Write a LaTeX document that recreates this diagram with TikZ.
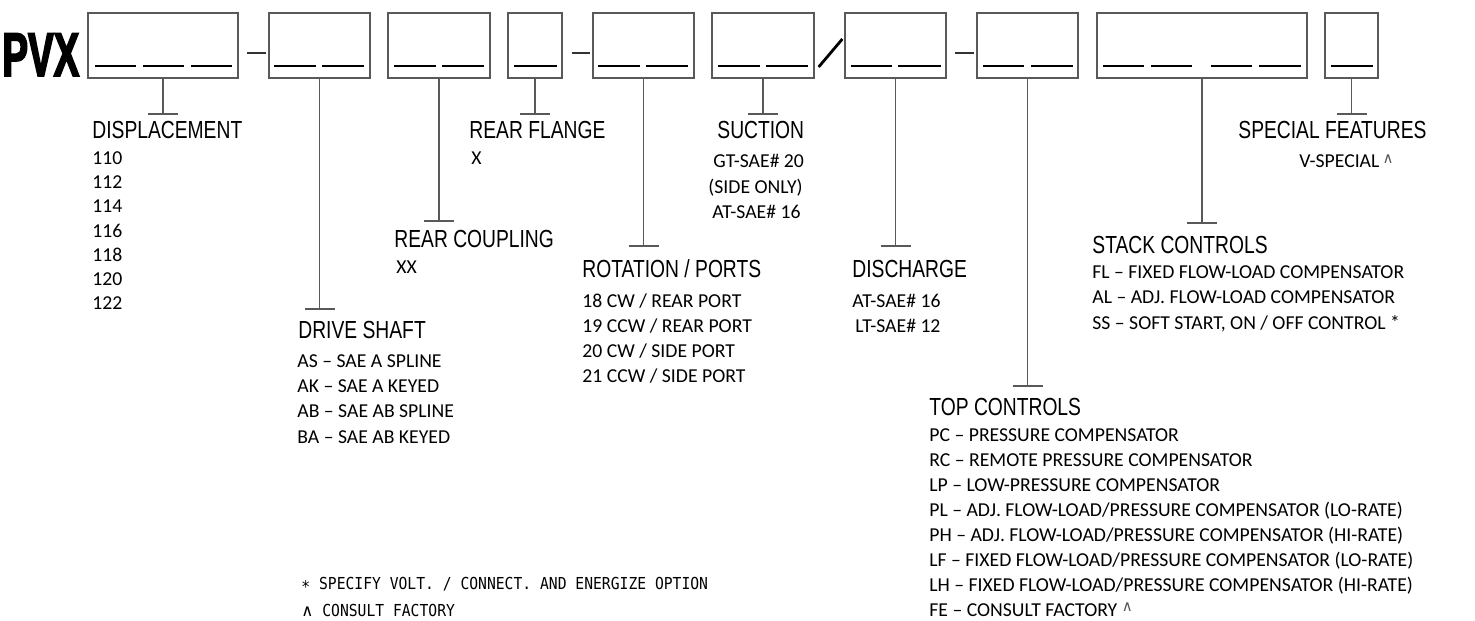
\documentclass[tikz,border=0pt]{standalone}
\usepackage{fontspec}
\usetikzlibrary{fit,calc}
\newfontfamily\headfam[FakeStretch=0.78]{Liberation Sans}
\newfontfamily\itemfam{Carlito}
\newfontfamily\pvxfam[FakeStretch=0.62,FakeBold=2.5]{Liberation Sans}
\newfontfamily\notefam[FakeStretch=0.89]{DejaVu Sans Mono}
\newfontfamily\symfam{DejaVu Sans}
\newcommand\headfont{\headfam\fontsize{12.35}{14}\selectfont}
\newcommand\itemfont{\itemfam\fontsize{9.85}{12}\selectfont}
\newcommand\notefont{\notefam\fontsize{8.25}{10}\selectfont}
\newcommand\caretmark{\raisebox{2.2pt}{\textcolor{black!65}{\symfam\fontsize{7.5}{8}\selectfont ∧}}}
\begin{document}
\begin{tikzpicture}[x=0.5pt,y=-0.5pt,
  box/.style={draw=black!65,line width=0.65pt,inner sep=0pt},
  usc/.style={draw=black,line width=0.7pt},
  stem/.style={draw=black!65,line width=0.6pt},
  dashline/.style={draw=black!80,line width=0.6pt},
  head/.style={anchor=base west,inner sep=0pt,font=\headfont},
  item/.style={anchor=base west,inner sep=0pt,font=\itemfont},
  note/.style={anchor=base west,inner sep=0pt,font=\notefont}]
\useasboundingbox (0,0) rectangle (1475,620);
\fill[white] (0,0) rectangle (1475,620);

% PVX
\node[anchor=base west,inner sep=0pt,font=\pvxfam\bfseries\fontsize{31}{32}\selectfont] (pvx) at (2,76) {PVX};

% boxes
\node[box,fit={(88,13) (238,78)}] (b1) {};
\node[box,fit={(269,13) (370,78)}] (b2) {};
\node[box,fit={(388,13) (490,78)}] (b3) {};
\node[box,fit={(508,13) (562,78)}] (b4) {};
\node[box,fit={(593,13) (694,78)}] (b5) {};
\node[box,fit={(712,13) (814,78)}] (b6) {};
\node[box,fit={(845,13) (946,78)}] (b7) {};
\node[box,fit={(977,13) (1078,78)}] (b8) {};
\node[box,fit={(1097,13) (1307,78)}] (b9) {};
\node[box,fit={(1325,13) (1378,78)}] (b10) {};

% underscores
\foreach \a/\b in {95/136,143/184,191/232,274/316,322/364,394/436,442/484,514/557,
  598/640,646/688,718/760,766/808,851/892,898/941,983/1024,1031/1073,
  1103/1144,1151/1192,1211/1252,1259/1301,1331/1373}
  \draw[usc] (\a,66) -- (\b,66);

% dashes and slash
\draw[dashline] ([xshift=4pt,yshift=-3.75pt]b1.east) -- ([xshift=-1pt,yshift=-3.75pt]b2.west);
\draw[dashline] ([xshift=4.5pt,yshift=-3.75pt]b4.east) -- ([xshift=-1pt,yshift=-3.75pt]b5.west);
\draw[dashline] ([xshift=4pt,yshift=-3.75pt]b7.east) -- ([xshift=-1pt,yshift=-3.75pt]b8.west);
\draw[line width=1.4pt] ([xshift=2pt,yshift=-10.75pt]b6.east) -- ([xshift=-1pt,yshift=3.25pt]b7.west);

% stems with cross bars
\foreach \n/\y in {b1/114,b2/309,b3/221,b4/114,b5/246,b6/114,b7/246,b8/386,b9/223,b10/114}{
  \coordinate (t\n) at (\n.south |- 0,\y);
  \draw[stem] (\n.south) -- (t\n);
  \draw[stem] ([xshift=-7.5pt]t\n) -- ([xshift=7.5pt]t\n);
}

% DISPLACEMENT
\node[head] (hdisp) at (92,139) {DISPLACEMENT};
\foreach \t [count=\i from 0] in {110,112,114,116,118,120,122}
  \node[item] (disp\i) at (92,165+24*\i) {\t};

% DRIVE SHAFT
\node[head] (hdrive) at (298,338) {DRIVE SHAFT};
\node[item] (d1) at (297,367) {AS – SAE A SPLINE};
\node[item] (d2) at (297,392) {AK – SAE A KEYED};
\node[item] (d3) at (297,417) {AB – SAE AB SPLINE};
\node[item] (d4) at (297,443) {BA – SAE AB KEYED};

% REAR COUPLING
\node[head] (hcoup) at (394,247) {REAR COUPLING};
\node[item] (c1) at (396,273) {XX};

% REAR FLANGE
\node[head] (hflange) at (469,139) {REAR FLANGE};
\node[item] (f1) at (471,165) {X};

% ROTATION / PORTS
\node[head] (hrot) at (582,277) {ROTATION / PORTS};
\node[item] (r1) at (582,307) {18 CW / REAR PORT};
\node[item] (r2) at (582,332) {19 CCW / REAR PORT};
\node[item] (r3) at (582,357) {20 CW / SIDE PORT};
\node[item] (r4) at (582,382) {21 CCW / SIDE PORT};

% SUCTION
\node[head] (hsuc) at (717,139) {SUCTION};
\node[item] (s1) at (713,168) {GT-SAE\# 20};
\node[item] (s2) at (708,193) {(SIDE ONLY)};
\node[item] (s3) at (712,219) {AT-SAE\# 16};

% DISCHARGE
\node[head] (hdis) at (852,277) {DISCHARGE};
\node[item] (g1) at (852,307) {AT-SAE\# 16};
\node[item] (g2) at (855,332) {LT-SAE\# 12};

% TOP CONTROLS
\node[head] (htop) at (929,415) {TOP CONTROLS};
\node[item] (p1) at (929,441) {PC – PRESSURE COMPENSATOR};
\node[item] (p2) at (929,466) {RC – REMOTE PRESSURE COMPENSATOR};
\node[item] (p3) at (929,491) {LP – LOW-PRESSURE COMPENSATOR};
\node[item] (p4) at (929,516) {PL – ADJ. FLOW-LOAD/PRESSURE COMPENSATOR (LO-RATE)};
\node[item] (p5) at (929,541) {PH – ADJ. FLOW-LOAD/PRESSURE COMPENSATOR (HI-RATE)};
\node[item] (p6) at (929,566) {LF – FIXED FLOW-LOAD/PRESSURE COMPENSATOR (LO-RATE)};
\node[item] (p7) at (929,591) {LH – FIXED FLOW-LOAD/PRESSURE COMPENSATOR (HI-RATE)};
\node[item] (p8) at (929,616) {FE – CONSULT FACTORY \caretmark};

% STACK CONTROLS
\node[head] (hstack) at (1092,253) {STACK CONTROLS};
\node[item] (k1) at (1092,278) {FL – FIXED FLOW-LOAD COMPENSATOR};
\node[item] (k2) at (1092,303) {AL – ADJ. FLOW-LOAD COMPENSATOR};
\node[item] (k3) at (1092,329) {SS – SOFT START, ON / OFF CONTROL *};

% SPECIAL FEATURES
\node[head] (hspec) at (1238,139) {SPECIAL FEATURES};
\node[item] (v1) at (1299,168) {V-SPECIAL\,\caretmark};

% footnotes
\node[note] (n1) at (301,589) {∗ SPECIFY VOLT. / CONNECT. AND ENERGIZE OPTION};
\node[note] (n2) at (301,616) {{\symfam∧} CONSULT FACTORY};
\end{tikzpicture}
\end{document}
